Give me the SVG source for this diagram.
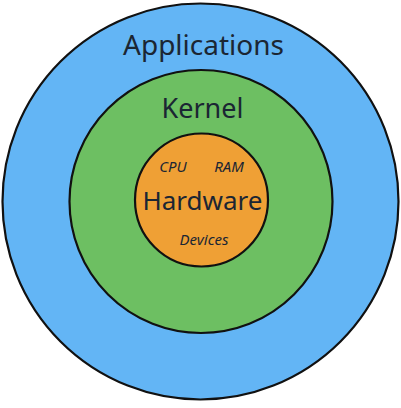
<svg xmlns="http://www.w3.org/2000/svg" width="401" height="408" viewBox="0 0 401 408">
<style>
.ring{stroke:#111;stroke-width:2.2}
.lbl{font-family:"Noto Sans","Open Sans","Liberation Sans",sans-serif;fill:#1b2633;text-anchor:middle}
.sm{font-style:italic;font-size:15px}
</style>
<rect width="401" height="408" fill="#ffffff"/>
<g id="applications">
<circle class="ring" cx="200.5" cy="201.5" r="198" fill="#63b5f5"/>
<text class="lbl" x="203.5" y="55" font-size="28">Applications</text>
</g>
<g id="kernel">
<circle class="ring" cx="201" cy="201.5" r="131.5" fill="#6dbf62"/>
<text class="lbl" x="202.5" y="118" font-size="27">Kernel</text>
</g>
<g id="hardware">
<circle class="ring" cx="201.5" cy="200" r="66.5" fill="#efa035"/>
<text class="lbl" x="202.5" y="210" font-size="26">Hardware</text>
<text class="lbl sm" x="173" y="171.5">CPU</text>
<text class="lbl sm" x="229" y="171.5">RAM</text>
<text class="lbl sm" x="204" y="245">Devices</text>
</g>
<g id="connectors"/>
</svg>
